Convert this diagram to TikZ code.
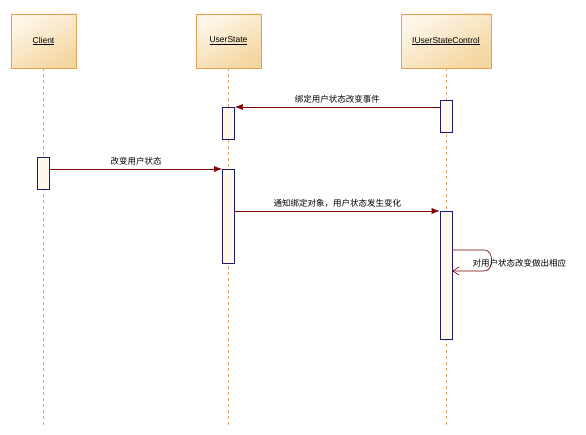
\documentclass[tikz,border=0pt]{standalone}
\usepackage{fontspec}
\setmainfont{Liberation Sans}
\newfontfamily\cjk{Noto Sans CJK SC}
\usetikzlibrary{arrows.meta}

\definecolor{hdlite}{RGB}{253, 246, 232}
\definecolor{hddark}{RGB}{244, 214, 160}
\definecolor{hdline}{RGB}{230, 160, 80}
\definecolor{lfline}{RGB}{225, 165, 105}
\definecolor{acfill}{RGB}{253, 247, 236}
\definecolor{acline}{RGB}{30, 25, 110}
\definecolor{msgred}{RGB}{128, 0, 0}

\tikzset{
  head/.style={draw=hdline, top color=hdlite, bottom color=hddark, shading angle=30,
    minimum height=54pt, inner sep=0pt, font=\fontsize{8.5}{10}\selectfont},
  life/.style={draw=lfline, dashed, dash pattern=on 3pt off 3pt, line width=0.5pt},
  actbox/.style={draw=acline, fill=acfill, line width=0.7pt, minimum width=12pt,
    inner sep=0pt, anchor=north},
  msg/.style={draw=msgred, line width=0.6pt, -{Latex[length=8pt,width=6pt]}},
  selfmsg/.style={draw=msgred, line width=0.6pt, -{Straight Barb[length=6pt,width=8pt]}},
  lbl/.style={font=\cjk\fontsize{8.5}{10}\selectfont, inner sep=1pt}
}

\begin{document}
\begin{tikzpicture}[x=1pt, y=-1pt]
  \useasboundingbox (0,0) rectangle (586,435);

  % --- Heads ---
  \node[head, minimum width=65pt] (client) at (43.5,41) {\underline{Client}};
  \node[head, minimum width=65pt] (state) at (228.5,41) {\underline{UserState}};
  \node[head, minimum width=90pt] (ctl) at (446,41) {\underline{IUserStateControl}};

  % --- Lifelines ---
  \foreach \n in {client,state,ctl} {
      \coordinate (\n end) at (\n.center |- 0,425);
      \draw[life] (\n.south) -- (\n end);
    }

  % --- Activations ---
  \node[actbox, minimum height=32pt] (ctlA) at (ctl.center |- 0,100) {};
  \node[actbox, minimum height=32pt] (stateA) at (state.center |- 0,107) {};
  \node[actbox, minimum height=32pt] (clientA) at (client.center |- 0,157) {};
  \node[actbox, minimum height=94pt] (stateB) at (state.center |- 0,169) {};
  \node[actbox, minimum height=128pt] (ctlB) at (ctl.center |- 0,211) {};

  % --- Messages ---
  \draw[msg] (ctlA.west |- stateA.north) -- (stateA.north east)
    node[lbl, midway, above=2pt] (m1) {绑定用户状态改变事件};
  \draw[msg] (clientA.east |- stateB.north) -- (stateB.north west)
    node[lbl, midway, above=2pt] (m2) {改变用户状态};
  \draw[msg] (stateB.east |- ctlB.north) -- (ctlB.north west)
    node[lbl, midway, above=2pt] (m3) {通知绑定对象，用户状态发生变化};

  % self call
  \coordinate (s0) at ([yshift=-39pt]ctlB.north east);
  \coordinate (s1) at ([yshift=-60pt]ctlB.north east);
  \draw[selfmsg] (s0) -- ++(32,0) to[out=0, in=0, looseness=1.2] ([xshift=32pt]s1) -- (s1);
  \node[lbl, anchor=west] (m4) at ([xshift=19pt,yshift=8pt]s1) {对用户状态改变做出相应};
\end{tikzpicture}
\end{document}
